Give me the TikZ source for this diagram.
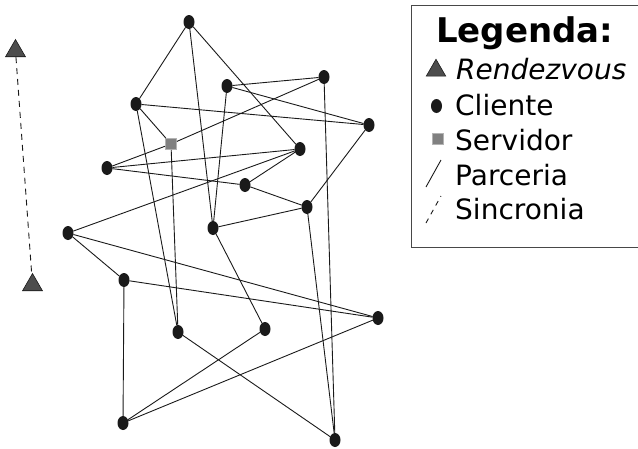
\documentclass[tikz,border=0pt]{standalone}
\usepackage{fontspec}
\setmainfont{DejaVu Sans}
\usetikzlibrary{shapes.geometric}
\definecolor{nodeblk}{HTML}{1A1A1A}
\definecolor{srvgray}{HTML}{808080}
\definecolor{trigray}{HTML}{4D4D4D}
\tikzset{
  client/.style={ellipse,fill=nodeblk,minimum width=11pt,minimum height=14pt,inner sep=0pt,outer sep=0pt},
  server/.style={rectangle,fill=srvgray,draw=srvgray!60,line width=0.8pt,minimum size=11pt,inner sep=0pt},
  rdv/.style={regular polygon,regular polygon sides=3,fill=trigray,draw=nodeblk,line width=0.6pt,minimum size=23pt,inner sep=0pt},
  link/.style={draw=nodeblk,line width=0.9pt},
  sync/.style={draw=nodeblk,line width=0.9pt,dash pattern=on 6pt off 5pt},
  legtext/.style={anchor=base west,inner sep=0pt,font=\fontsize{28pt}{28pt}\selectfont},
}
\begin{document}
\begin{tikzpicture}[x=1pt,y=-1pt]
\useasboundingbox (0,0) rectangle (638,448);
% legend box
\draw[line width=1pt,draw=nodeblk!80] (411,5) rectangle (660,247);
\node[legtext,font=\fontsize{34pt}{34pt}\selectfont\bfseries] (lt) at (436,42) {Legenda:};
\node[rdv,minimum size=22.5pt] (lr) at (436,70.5) {};
\node[legtext] (lrt) at (456,79) {\itshape Rendezvous};
\node[client] (lc) at (436.5,106) {};
\node[legtext] (lct) at (455,115) {Cliente};
\node[server] (ls) at (437.5,138.5) {};
\node[legtext] (lst) at (455,150) {Servidor};
\coordinate (lp1) at (426,187); \coordinate (lp2) at (441,160);
\draw[link] (lp1) -- (lp2);
\node[legtext] (lpt) at (455,185) {Parceria};
\coordinate (ls1) at (426,223); \coordinate (ls2) at (441,196);
\draw[sync,dash pattern=on 5pt off 5pt] (ls1) -- (ls2);
\node[legtext] (lyt) at (455,219) {Sincronia};
% rendezvous
\node[rdv] (r1) at (15.5,51) {};
\node[rdv] (r2) at (32.5,285) {};
% clients
\node[client] (A) at (189,22) {};
\node[client] (B) at (136,104) {};
\node[client] (C) at (227,86) {};
\node[client] (D) at (324,77) {};
\node[client] (E) at (369,125) {};
\node[client] (F) at (107,168) {};
\node[client] (G) at (300,149) {};
\node[client] (H) at (245,185) {};
\node[client] (I) at (307,207) {};
\node[client] (J) at (213,228) {};
\node[client] (K) at (68,233) {};
\node[client] (L) at (124,280) {};
\node[client] (M) at (178,332) {};
\node[client] (N) at (265,329) {};
\node[client] (O) at (378,318) {};
\node[client] (P) at (123,423) {};
\node[client] (Q) at (335,440) {};
\node[server] (S) at (171,144) {};
% links
\foreach \a/\b in {A/B,A/G,A/J,B/S,B/E,B/M,S/M,S/D,F/S,F/G,F/H,G/H,G/K,H/I,I/E,I/J,I/Q,D/C,D/Q,C/E,C/J,J/N,K/L,K/O,L/O,L/P,M/Q,P/N,P/O}
  \draw[link] (\a) -- (\b);
\draw[sync] (r1) -- (r2);
\end{tikzpicture}
\end{document}
